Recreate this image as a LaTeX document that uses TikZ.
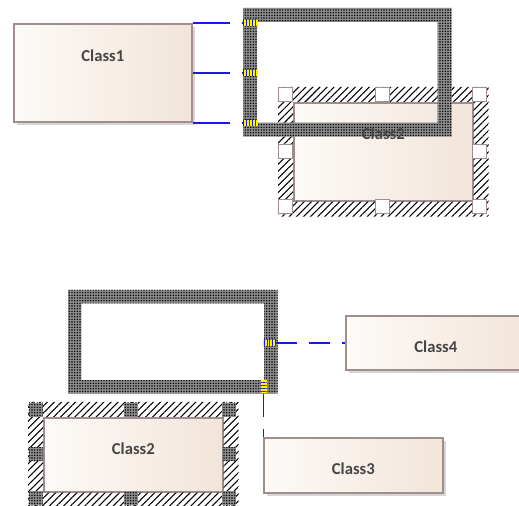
\documentclass[tikz,border=0pt]{standalone}
\usepackage{fontspec}
\setmainfont{Carlito}
\usetikzlibrary{positioning,patterns.meta,shadows}

\definecolor{boxline}{HTML}{9F8E8E}
\definecolor{boxleft}{HTML}{FDFAF7}
\definecolor{boxright}{HTML}{F2E5DA}
\definecolor{linkblue}{HTML}{1A1AE6}
\definecolor{labeltext}{HTML}{454545}

\tikzset{
  classbox/.style={rectangle, draw=boxline, line width=1.2pt, left color=boxleft, right color=boxright, anchor=north west, inner sep=0pt},
  shadowed/.style={drop shadow={shadow xshift=2.5pt, shadow yshift=-2.5pt, fill=black!16, opacity=1}},
  classtext/.style={font=\fontsize{12.5}{14}\selectfont\bfseries, text=labeltext},
  ghostbox/.style={rectangle, anchor=north west, inner sep=0pt},
  checker/.style={pattern={Dots[distance=2pt,radius=.6pt]}, pattern color=black},
  hatchsel/.style={pattern={Lines[angle=45,distance=3.75pt,line width=.8pt]}, pattern color=black},
  handle/.style={rectangle, draw=boxline, fill=white, line width=.6pt, minimum size=10.5pt, inner sep=0pt},
  greyhandle/.style={rectangle, fill=black!45, postaction={checker}, minimum size=10.5pt, inner sep=0pt},
  marker/.style={rectangle, fill=yellow, inner sep=0pt, postaction={pattern={Lines[angle=90,distance=2.2pt,line width=.55pt]}, pattern color=linkblue}},
  hmarker/.style={rectangle, fill=yellow, inner sep=0pt, postaction={pattern={Lines[angle=0,distance=2.2pt,line width=.55pt]}, pattern color=linkblue}},
  link/.style={draw=linkblue, line width=1.4pt},
}

% frame of a box being dragged
\newcommand\ghostframe[2]{%
  \fill[black!45, even odd rule, postaction={checker}] (#1.north west) rectangle (#1.south east)
    ([xshift=#2,yshift=-#2]#1.north west) rectangle ([xshift=-#2,yshift=#2]#1.south east);}
% hatched band round a selected box
\newcommand\selband[1]{%
  \fill[hatchsel, even odd rule] ([xshift=-11.25pt,yshift=11.25pt]#1.north west) rectangle ([xshift=11.25pt,yshift=-11.25pt]#1.south east)
    (#1.north west) rectangle (#1.south east);}

\begin{document}
\begin{tikzpicture}[x=0.75pt,y=-0.75pt]
\useasboundingbox (0,0) rectangle (519,506);

% upper group
\node[classbox, shadowed, minimum width=133.5pt, minimum height=73.5pt,
      label={[classtext,yshift=12.75pt]center:Class1}] (c1) at (13,23) {};
\node[classbox, minimum width=134.25pt, minimum height=73.5pt] (t2) at (293,102) {};
\selband{t2}
\foreach \hx/\hy in {285.5/94.5, 382.5/94.5, 479.5/94.5, 479.5/151, 479.5/206.5, 382.5/206.5, 285.5/206.5, 285.5/151}
  \node[handle] at (\hx,\hy) {};

\node[ghostbox, minimum width=156pt, minimum height=96pt] (gtop) at (243,8) {};
\ghostframe{gtop}{10.5pt}
\node[classtext] (t2text) at ([yshift=13.5pt]t2.center) {Class2};

\foreach \n/\my in {1/23, 2/73, 3/123}
  \node[marker, minimum width=11.25pt, minimum height=4.5pt] (m\n) at (250,\my) {};
\draw[link, dash pattern=on 27.75pt off 9pt] (c1.north east) -- (m1.west);
\draw[link, dash pattern=on 27.75pt off 9pt] (c1.east |- m2) -- (m2.west);
\draw[link, dash pattern=on 27.75pt off 9pt] (c1.south east |- m3) -- (m3.west);

% lower group
\node[ghostbox, minimum width=156.75pt, minimum height=77.25pt] (gbot) at (68,290) {};
\ghostframe{gbot}{10pt}

\node[classbox, minimum width=134.25pt, minimum height=55.5pt,
      label={[classtext,yshift=4.5pt]center:Class2}] (b2) at (43,417) {};
\selband{b2}
\foreach \hx/\hy in {35.5/410, 130.5/410, 229/410, 229/454.5, 229/498.5, 130.5/498.5, 35.5/498.5, 35.5/454.5}
  \node[greyhandle] at (\hx,\hy) {};

\node[classbox, shadowed, minimum width=135pt, minimum height=40.5pt,
      label={[classtext,yshift=-3pt]center:Class4}] (c4) at (345,315) {};
\node[classbox, shadowed, minimum width=134.25pt, minimum height=41.25pt,
      label={[classtext,yshift=-2.6pt]center:Class3}] (c3) at (263,437) {};

\node[marker, minimum width=9.75pt, minimum height=4.5pt] (m4) at (269.5,343) {};
\node[hmarker, minimum width=4.5pt, minimum height=9.75pt] (m5) at (263.5,387) {};
\draw[link, dash pattern=on 15.75pt off 9pt] (m4.east) -- (c4.west |- m4);
\draw[link, dash pattern=on 17.25pt off 9pt] (m5.south) -- (m5 |- c3.north);
\end{tikzpicture}
\end{document}
